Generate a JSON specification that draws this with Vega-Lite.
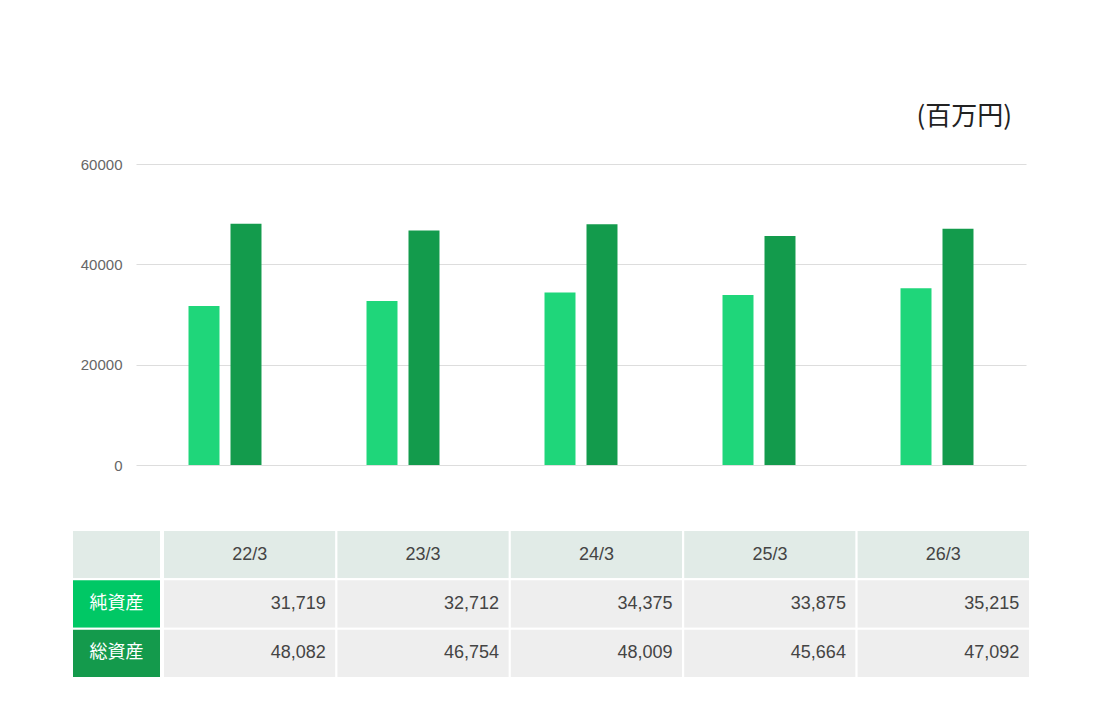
{
  "$schema": "https://vega.github.io/schema/vega-lite/v6.json",
  "padding": {"left": 70, "top": 104, "right": 5, "bottom": 5},
  "background": "white",
  "config": {
    "view": {"stroke": null},
    "font": "Liberation Sans, Noto Sans CJK JP",
    "text": {"font": "Liberation Sans, Noto Sans CJK JP"}
  },
  "datasets": {
    "vals": [
      {"year": "22/3", "series": "純資産", "value": 31719},
      {"year": "22/3", "series": "総資産", "value": 48082},
      {"year": "23/3", "series": "純資産", "value": 32712},
      {"year": "23/3", "series": "総資産", "value": 46754},
      {"year": "24/3", "series": "純資産", "value": 34375},
      {"year": "24/3", "series": "総資産", "value": 48009},
      {"year": "25/3", "series": "純資産", "value": 33875},
      {"year": "25/3", "series": "総資産", "value": 45664},
      {"year": "26/3", "series": "純資産", "value": 35215},
      {"year": "26/3", "series": "総資産", "value": 47092}
    ],
    "labels": [
      {"row": "head", "label": ""},
      {"row": "純資産", "label": "純資産"},
      {"row": "総資産", "label": "総資産"}
    ],
    "empty": []
  },
  "columns": 2,
  "align": "none",
  "spacing": {"row": 56, "column": 0},
  "resolve": {"scale": {"color": "independent"}},
  "concat": [
    {
      "width": 1,
      "height": 1,
      "data": {"name": "empty"},
      "mark": {"type": "rect"},
      "encoding": {}
    },
    {
      "width": 890,
      "height": 301,
      "title": {
        "text": "(百万円)",
        "anchor": "end",
        "fontSize": 26,
        "fontWeight": "normal",
        "color": "#222222",
        "font": "Noto Sans CJK JP",
        "offset": 27,
        "dx": -14
      },
      "data": {"name": "vals"},
      "mark": {"type": "bar"},
      "encoding": {
        "x": {
          "field": "year",
          "type": "nominal",
          "axis": null,
          "scale": {"paddingInner": 0.59, "paddingOuter": 0.295}
        },
        "xOffset": {
          "field": "series",
          "type": "nominal",
          "scale": {"domain": ["純資産", "総資産"], "paddingInner": 0.262, "paddingOuter": 0}
        },
        "y": {
          "field": "value",
          "type": "quantitative",
          "scale": {"domain": [0, 60000]},
          "axis": {
            "title": null,
            "values": [0, 20000, 40000, 60000],
            "format": "d",
            "domain": false,
            "ticks": false,
            "labelPadding": 14,
            "labelFontSize": 15,
            "labelColor": "#666666",
            "labelFont": "Liberation Sans",
            "gridColor": "#dddddd",
            "minExtent": 65
          }
        },
        "color": {
          "field": "series",
          "type": "nominal",
          "scale": {"domain": ["純資産", "総資産"], "range": ["#1fd67a", "#139b4c"]},
          "legend": null
        }
      }
    },
    {
      "width": 1,
      "height": 1,
      "data": {"name": "empty"},
      "mark": {"type": "rect"},
      "encoding": {}
    },
    {
      "spacing": 0,
      "resolve": {"scale": {"color": "independent"}},
      "hconcat": [
        {
          "width": 89,
          "height": 148,
          "data": {"name": "labels"},
          "encoding": {
            "y": {
              "field": "row",
              "type": "nominal",
              "axis": null,
              "scale": {"domain": ["head", "純資産", "総資産"], "paddingInner": 0, "paddingOuter": 0}
            }
          },
          "layer": [
            {
              "mark": {"type": "rect", "stroke": "white", "strokeWidth": 2},
              "encoding": {
                "color": {
                  "field": "row",
                  "type": "nominal",
                  "scale": {"domain": ["head", "純資産", "総資産"], "range": ["#e1ebe7", "#00c865", "#149a4c"]},
                  "legend": null
                }
              }
            },
            {
              "mark": {"type": "text", "color": "white", "fontSize": 18, "font": "Noto Sans CJK JP", "align": "center"},
              "encoding": {"text": {"field": "label"}}
            }
          ]
        },
        {
          "width": 867,
          "height": 148,
          "data": {"name": "vals"},
          "encoding": {
            "x": {
              "field": "year",
              "type": "nominal",
              "axis": null,
              "scale": {"paddingInner": 0, "paddingOuter": 0}
            }
          },
          "layer": [
            {
              "transform": [{"filter": "datum.series === '純資産'"}],
              "mark": {"type": "rect", "stroke": "white", "strokeWidth": 2, "color": "#e1ebe7"},
              "encoding": {
                "y": {
                  "datum": "head",
                  "type": "nominal",
                  "axis": null,
                  "scale": {"domain": ["head", "純資産", "総資産"], "paddingInner": 0, "paddingOuter": 0}
                }
              }
            },
            {
              "transform": [{"filter": "datum.series === '純資産'"}],
              "mark": {"type": "text", "color": "#444444", "fontSize": 18, "align": "center", "font": "Liberation Sans"},
              "encoding": {
                "y": {"datum": "head", "type": "nominal"},
                "text": {"field": "year"}
              }
            },
            {
              "mark": {"type": "rect", "stroke": "white", "strokeWidth": 2, "color": "#eeeeee"},
              "encoding": {
                "y": {"field": "series", "type": "nominal"}
              }
            },
            {
              "mark": {"type": "text", "color": "#444444", "fontSize": 18, "align": "right", "dx": 76, "font": "Liberation Sans"},
              "encoding": {
                "y": {"field": "series", "type": "nominal"},
                "text": {"field": "value", "type": "quantitative", "format": ","}
              }
            }
          ]
        }
      ]
    }
  ]
}
